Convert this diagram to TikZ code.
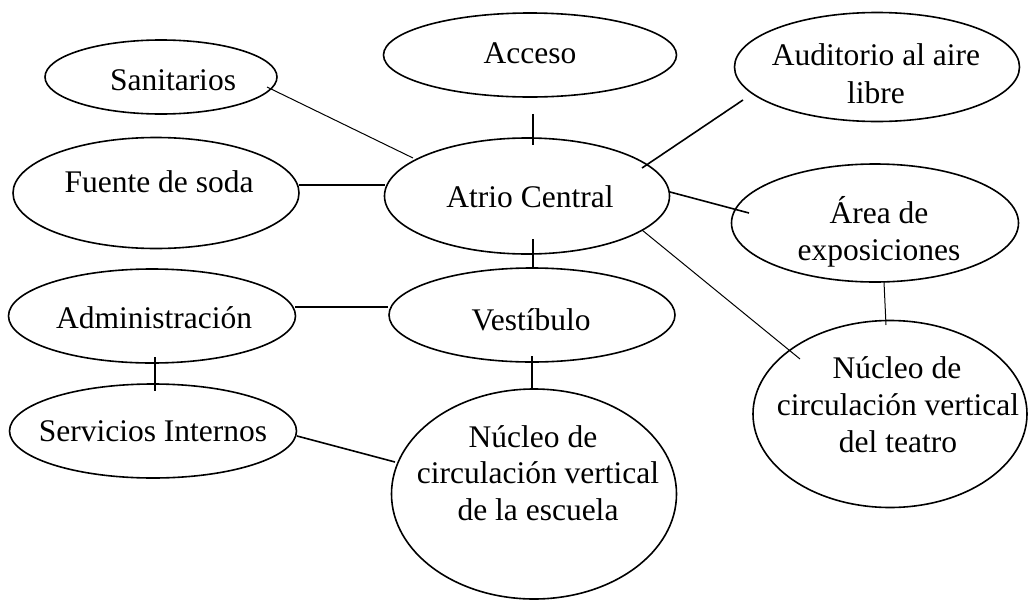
\documentclass[tikz,border=0pt]{standalone}
\usepackage{fontspec}
\setmainfont{Liberation Serif}
\usetikzlibrary{shapes.geometric}
\begin{document}
\begin{tikzpicture}[x=1pt,y=-1pt,
  bubble/.style={draw, line width=1.6pt, ellipse, inner sep=0pt},
  txt/.style={inner sep=0pt, anchor=base, font=\fontsize{31.5}{37}\selectfont},
  link/.style={line width=1.6pt},
  thinlink/.style={line width=1pt}]
\useasboundingbox (0,0) rectangle (1029,600);
\fill[white] (0,0) rectangle (1029,600);
% ellipses
\node[bubble, minimum width=293pt, minimum height=84pt] (acceso) at (530,55) {};
\node[bubble, minimum width=232pt, minimum height=74pt] (sanit) at (161,77) {};
\node[bubble, minimum width=286pt, minimum height=111pt] (fuente) at (156,193) {};
\node[bubble, minimum width=285pt, minimum height=116pt] (atrio) at (527,196) {};
\node[bubble, minimum width=285pt, minimum height=109pt] (audit) at (877,67) {};
\node[bubble, minimum width=287pt, minimum height=118pt] (area) at (875,223) {};
\node[bubble, minimum width=274pt, minimum height=187pt] (teatro) at (890,414) {};
\node[bubble, minimum width=286pt, minimum height=94pt] (vest) at (532,315) {};
\node[bubble, minimum width=285pt, minimum height=210pt] (escuela) at (534,494) {};
\node[bubble, minimum width=287pt, minimum height=94pt] (admin) at (152,316) {};
\node[bubble, minimum width=287pt, minimum height=94pt] (serv) at (153,431) {};
% texts
\node[txt] (acceso-t) at (530,63) {Acceso};
\node[txt] (sanit-t) at (173,90) {Sanitarios};
\node[txt] (fuente-t) at (159,192) {Fuente de soda};
\node[txt] (atrio-t) at (530,207) {Atrio Central};
\node[txt] (audit-t1) at (876,65) {Auditorio al aire};
\node[txt] (audit-t2) at (876,103) {libre};
\node[txt] (area-t1) at (879,223) {Área de};
\node[txt] (area-t2) at (879,260) {exposiciones};
\node[txt] (teatro-t1) at (897,378) {Núcleo de};
\node[txt] (teatro-t2) at (898,415) {circulación vertical};
\node[txt] (teatro-t3) at (898,452) {del teatro};
\node[txt] (vest-t) at (531,330) {Vestíbulo};
\node[txt] (escuela-t1) at (533,447) {Núcleo de};
\node[txt] (escuela-t2) at (538,483) {circulación vertical};
\node[txt] (escuela-t3) at (538,520) {de la escuela};
\node[txt] (admin-t) at (154,328) {Administración};
\node[txt] (serv-t) at (153,441) {Servicios Internos};
% connectors
\draw[link] ([shift={(3,16)}]acceso.south) -- ([shift={(6,-51)}]atrio.center);
\draw[thinlink] ([shift={(106,10)}]sanit.center) -- ([shift={(-114,-38)}]atrio.center);
\draw[link] ([shift={(143,-8)}]fuente.center) -- ([shift={(-142,-11)}]atrio.center);
\draw[link] ([shift={(-134,33)}]audit.center) -- ([shift={(115,-28)}]atrio.center);
\draw[link] ([shift={(143,-4)}]atrio.center) -- ([shift={(-126,-10)}]area.center);
\draw[thinlink] ([shift={(115,34)}]atrio.center) -- ([shift={(-90,-55)}]teatro.center);
\draw[thinlink] ([shift={(9,59)}]area.center) -- ([shift={(-4,-89)}]teatro.center);
\draw[link] ([shift={(6,43)}]atrio.center) -- ([shift={(1,-47)}]vest.center);
\draw[link] ([shift={(143,-9)}]admin.center) -- ([shift={(-144,-8)}]vest.center);
\draw[link] ([shift={(3,41)}]admin.center) -- ([shift={(2,-40)}]serv.center);
\draw[link] ([shift={(0,41)}]vest.center) -- ([shift={(-2,-105)}]escuela.center);
\draw[link] ([shift={(144,5)}]serv.center) -- ([shift={(-139,-32)}]escuela.center);
\end{tikzpicture}
\end{document}
